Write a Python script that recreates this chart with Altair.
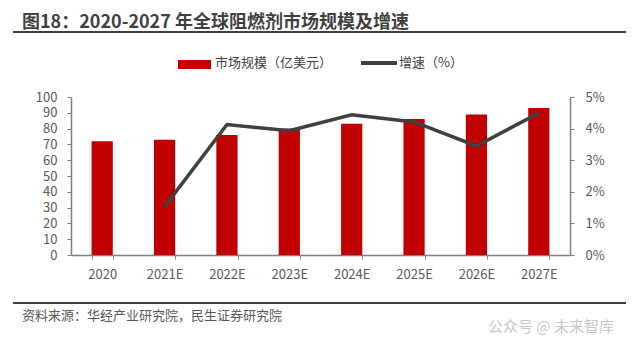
import altair as alt
import pandas as pd

years = ["2020", "2021E", "2022E", "2023E", "2024E", "2025E", "2026E", "2027E"]
market = [72, 73, 76, 80, 83, 86, 89, 93]
growth = [None, 0.0153, 0.0413, 0.0393, 0.0444, 0.0421, 0.0345, 0.0449]

df = pd.DataFrame({"year": years, "market": market, "growth": growth})

FONT = "Noto Sans CJK SC"
LBL = "#595959"
AX = "#808080"

x_enc = alt.X(
    "year:N", sort=years, title=None,
    scale=alt.Scale(paddingInner=0.66, paddingOuter=0.33),
    axis=alt.Axis(labelAngle=0, labelFont=FONT, labelFontSize=13, labelColor=LBL,
                  domainColor=AX, tickColor=AX, tickSize=4, tickBand="extent",
                  labelPadding=9, domainWidth=1.5),
)

bars = alt.Chart(df).mark_bar(color="#C00000").encode(
    x=x_enc,
    y=alt.Y("market:Q", title=None,
            scale=alt.Scale(domain=[0, 100], nice=False),
            axis=alt.Axis(values=list(range(0, 101, 10)), grid=False, labelFont=FONT,
                          labelFontSize=13, labelColor=LBL, domainColor=AX, tickColor=AX,
                          tickSize=4, labelPadding=10, domainWidth=1.5)),
)

line = alt.Chart(df).transform_filter("isValid(datum.growth)").mark_line(
    color="#404040", strokeWidth=3.5, strokeCap="butt"
).encode(
    x=alt.X("year:N", sort=years),
    y=alt.Y("growth:Q", title=None,
            scale=alt.Scale(domain=[0, 0.05], nice=False),
            axis=alt.Axis(orient="right", values=[0, 0.01, 0.02, 0.03, 0.04, 0.05],
                          format=".0%", grid=False, labelFont=FONT, labelFontSize=13,
                          labelColor=LBL, domainColor=AX, tickColor=AX, tickSize=4,
                          labelPadding=11, domainWidth=1.5)),
)

one = alt.Data(values=[{"a": 1}])

def txt(text, x, y, size, color, weight="normal", baseline="middle", align="left"):
    return alt.Chart(one).mark_text(
        font=FONT, fontSize=size, color=color, fontWeight=weight,
        baseline=baseline, align=align
    ).encode(x=alt.value(x), y=alt.value(y), text=alt.value(text))

def rule(x1, x2, y, color, w):
    return alt.Chart(one).mark_rule(color=color, strokeWidth=w).encode(
        x=alt.value(x1), x2=alt.value(x2), y=alt.value(y))

title = txt("图18：2020-2027 年全球阻燃剂市场规模及增速", -49, -69, 18, "#3f3f3f",
            weight="bold", baseline="alphabetic")
top_rule = rule(-58, 555, -65, "#404040", 2)
bottom_rule = rule(-58, 555, 206, "#404040", 2)
source = txt("资料来源：华经产业研究院，民生证券研究院", -49, 219, 13, LBL)
watermark = txt("公众号 @ 未来智库", 417, 230, 15, "#c8c8c8")

leg_rect = alt.Chart(one).mark_rect(color="#C00000").encode(
    x=alt.value(107), x2=alt.value(140), y=alt.value(-37), y2=alt.value(-28))
leg_text1 = txt("市场规模（亿美元）", 144, -34, 13, "#404040")
leg_line = rule(290, 326, -34, "#404040", 4)
leg_text2 = txt("增速（%）", 328, -34, 13, "#404040")

main = alt.layer(bars, line).resolve_scale(y="independent")

chart = alt.layer(
    main, title, top_rule, bottom_rule, source, watermark,
    leg_rect, leg_text1, leg_line, leg_text2
).properties(
    width=499, height=158,
    autosize=alt.AutoSizeParams(type="none"),
    padding={"left": 71, "top": 97, "right": 70, "bottom": 98},
    background="white",
).configure_view(stroke=None)

chart.save("out.html", embed_options={"renderer": "svg", "actions": False})
